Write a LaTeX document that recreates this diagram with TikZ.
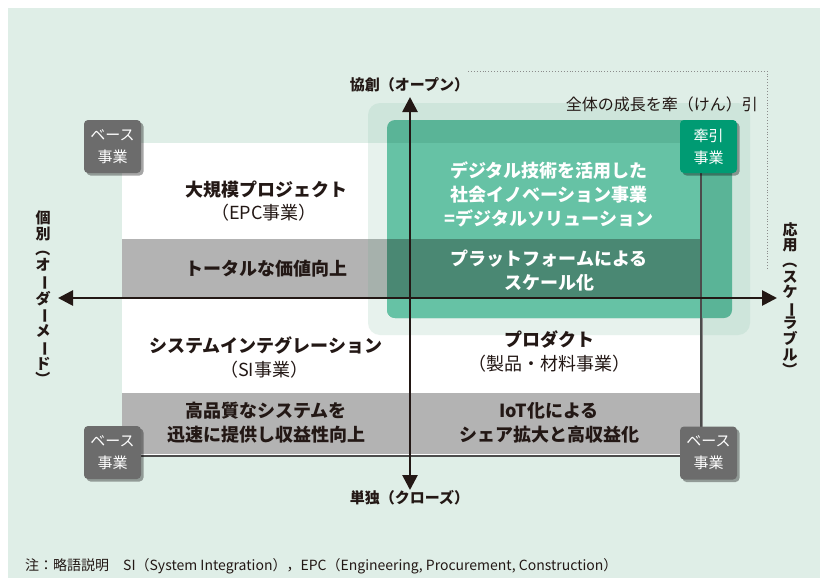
\documentclass[tikz,border=0pt]{standalone}
\usepackage{fontspec}
\setmainfont{Noto Sans CJK JP}
\usetikzlibrary{arrows.meta}
\definecolor{bgc}{RGB}{223,238,231}
\definecolor{Lbg}{RGB}{206,229,219}
\definecolor{Lw}{RGB}{231,242,237}
\definecolor{Lg}{RGB}{166,177,172}
\definecolor{Mbg}{RGB}{90,180,151}
\definecolor{Mw}{RGB}{102,194,165}
\definecolor{Mg}{RGB}{74,136,115}
\definecolor{bandgray}{RGB}{179,179,179}
\definecolor{ink}{RGB}{35,24,21}
\definecolor{boxgray}{RGB}{108,108,108}
\definecolor{leadgreen}{RGB}{0,155,115}
\newcommand{\vbar}{\rotatebox[origin=c]{-90}{ー}}
\newcommand{\vlp}{\rotatebox[origin=c]{-90}{（}}
\newcommand{\vrp}{\rotatebox[origin=c]{-90}{）}}
\tikzset{
  head/.style={font=\bfseries\fontsize{18}{24}\selectfont, text=ink, align=center, inner sep=0pt},
  sub/.style={font=\fontsize{18}{24}\selectfont, text=ink, align=center, inner sep=0pt},
  whead/.style={head, text=white},
  axislabel/.style={font=\bfseries\fontsize{15}{15.6}\selectfont, text=ink, align=center, inner sep=0pt},
  tagbox/.style={font=\fontsize{15}{22}\selectfont, text=white, align=center, inner sep=0pt,
    minimum width=57pt, minimum height=53pt, rounded corners=4pt,
    preaction={fill=black, fill opacity=0.35, transform canvas={shift={(2.5pt,-2.5pt)}}}},
  axisline/.style={line width=2.7pt, draw=ink, {Triangle[length=15pt,width=15pt]}-{Triangle[length=15pt,width=15pt]}},
}
\begin{document}
\begin{tikzpicture}[x=1pt,y=-1pt]
\useasboundingbox (0,0) rectangle (827,578);
\fill[white] (0,0) rectangle (827,578);
\fill[bgc] (8,8) rectangle (820,578);
% light green region (over background)
\fill[Lbg, rounded corners=12pt] (368,103) rectangle (750,335);
% main white box with shadow
\fill[black!45] (124,145) rectangle (702.5,457);
\fill[white] (122,143) rectangle (700,455);
\fill[bandgray] (122,239) rectangle (700,298);
\fill[bandgray] (122,393) rectangle (700,453.5);
% light green over white / gray
\begin{scope}
  \clip (122,143) rectangle (700,455);
  \fill[Lw, rounded corners=12pt] (368,103) rectangle (750,335);
\end{scope}
\begin{scope}
  \clip (122,239) rectangle (700,298);
  \fill[Lg, rounded corners=12pt] (368,103) rectangle (750,335);
\end{scope}
% medium green box
\fill[Mbg, rounded corners=8pt] (387,120) rectangle (732,318);
\begin{scope}
  \clip (122,143) rectangle (700,455);
  \fill[Mw, rounded corners=8pt] (387,120) rectangle (732,318);
\end{scope}
\begin{scope}
  \clip (122,239) rectangle (700,298);
  \fill[Mg, rounded corners=8pt] (387,120) rectangle (732,318);
\end{scope}
% shadow edge of the white box seen through the green
\draw[black!70, line width=1.8pt] (701.2,143) -- (701.2,456.2) -- (124,456.2);
% dotted leader
\coordinate (dotA) at (468,71);
\coordinate (dotB) at (767,270);
\draw[black!45, dotted, line width=0.9pt] (dotA) -| (dotB);
% axes
\coordinate (vtop) at (410,97);
\coordinate (vbot) at (410,490);
\coordinate (hleft) at (58,298);
\coordinate (hright) at (777,298);
\draw[axisline] (vbot) -- (vtop);
\draw[axisline] (hleft) -- (hright);
% axis labels
\node[axislabel] (open) at (409.5,85) {協創（オープン）};
\node[axislabel] (close) at (409.5,498) {単独（クローズ）};
\node[axislabel] (custom) at (43,299) {個\\別\\\vlp\\オ\\\vbar\\ダ\\\vbar\\メ\\\vbar\\ド\\\vrp};
\node[axislabel] (scal) at (790,300) {応\\用\\\vlp\\ス\\ケ\\\vbar\\ラ\\ブ\\ル\\\vrp};
\node[font=\fontsize{16}{18}\selectfont, text=ink, anchor=east, inner sep=0pt] (growth) at (758,104) {全体の成長を牽（けん）引};
% quadrant texts
\node[head] (epc) at (266,190) {大規模プロジェクト};
\node[sub] (epcs) at (264,213) {（EPC事業）};
\node[head] (total) at (266,269) {トータルな価値向上};
\node[head] (si) at (266,345) {システムインテグレーション};
\node[sub] (sis) at (264,370) {（SI事業）};
\node[head] (hq) at (266,423) {高品質なシステムを\\迅速に提供し収益性向上};
\node[whead] (dig) at (549,194) {デジタル技術を活用した\\社会イノベーション事業\\=デジタルソリューション};
\node[whead] (plat) at (549,270.5) {プラットフォームによる\\スケール化};
\node[head] (prod) at (549,340) {プロダクト};
\node[sub] (prods) at (549,364) {（製品・材料事業）};
\node[head] (iot) at (549,422.5) {IoT化による\\シェア拡大と高収益化};
% tag boxes
\node[tagbox, fill=boxgray] (base1) at (112.5,146.5) {ベース\\事業};
\node[tagbox, fill=boxgray] (base2) at (112.5,452.5) {ベース\\事業};
\node[tagbox, fill=boxgray] (base3) at (708.5,453) {ベース\\事業};
\node[tagbox, fill=leadgreen] (lead) at (708.5,146.5) {牽引\\事業};
% note
\node[font=\fontsize{14}{16}\selectfont, text=ink, anchor=west, inner sep=0pt] (note) at (25,566) {注：略語説明\quad SI（System Integration），EPC（Engineering, Procurement, Construction）};
\end{tikzpicture}
\end{document}
